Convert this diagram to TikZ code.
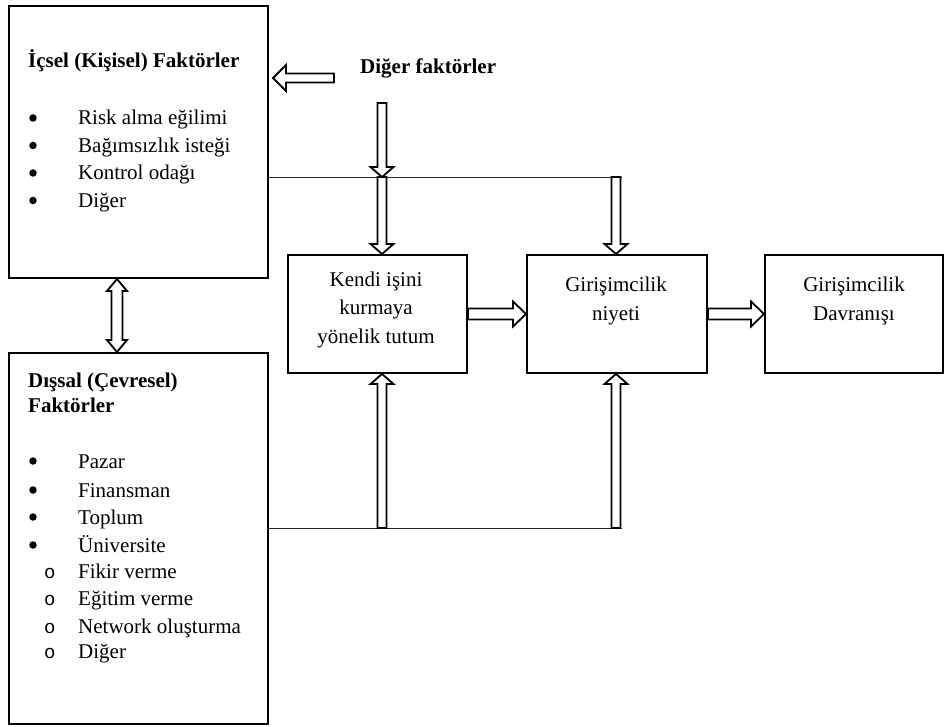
\documentclass[tikz,border=0pt]{standalone}
\usepackage{fontspec}
\setmainfont{Liberation Serif}
\newfontfamily\monofnt{Liberation Mono}
\usetikzlibrary{calc}
\def\baw{5pt}\def\bah{12pt}\def\bal{12pt}
\newcommand\basefont{\fontsize{21pt}{28pt}\selectfont}
\tikzset{
 box/.style={draw, line width=2pt, rectangle, inner sep=0pt, anchor=north west},
 txt/.style={anchor=base west, inner sep=0pt},
 btxt/.style={anchor=base west, inner sep=0pt, font=\basefont\bfseries},
 ctxt/.style={anchor=base, inner sep=0pt},
 blt/.style={circle, fill=black, inner sep=0pt, minimum size=7.5pt},
 sub/.style={anchor=base west, inner sep=0pt, font=\monofnt\fontsize{19pt}{28pt}\selectfont},
 thinline/.style={line width=0.8pt, draw=black!85},
 basize/.code n args={3}{\def\baw{#1}\def\bah{#2}\def\bal{#3}},
 ba/.style={draw, line width=1.8pt, fill=white, line join=miter,
   to path={ -- ($(\tikztostart)!\baw!90:(\tikztotarget)$)
     -- ($(\tikztotarget)!\bal!(\tikztostart)!\baw!-90:(\tikztostart)$)
     -- ($(\tikztotarget)!\bal!(\tikztostart)!\bah!-90:(\tikztostart)$)
     -- (\tikztotarget)
     -- ($(\tikztotarget)!\bal!(\tikztostart)!\bah!90:(\tikztostart)$)
     -- ($(\tikztotarget)!\bal!(\tikztostart)!\baw!90:(\tikztostart)$)
     -- ($(\tikztostart)!\baw!-90:(\tikztotarget)$)
     -- cycle}},
 dba/.style={draw, line width=1.8pt, fill=white, line join=miter,
   to path={ -- ($(\tikztostart)!\bal!(\tikztotarget)!\bah!90:(\tikztotarget)$)
      -- ($(\tikztostart)!\bal!(\tikztotarget)!\baw!90:(\tikztotarget)$)
      -- ($(\tikztotarget)!\bal!(\tikztostart)!\baw!-90:(\tikztostart)$)
      -- ($(\tikztotarget)!\bal!(\tikztostart)!\bah!-90:(\tikztostart)$)
      -- (\tikztotarget)
      -- ($(\tikztotarget)!\bal!(\tikztostart)!\bah!90:(\tikztostart)$)
      -- ($(\tikztotarget)!\bal!(\tikztostart)!\baw!90:(\tikztostart)$)
      -- ($(\tikztostart)!\bal!(\tikztotarget)!\baw!-90:(\tikztotarget)$)
      -- ($(\tikztostart)!\bal!(\tikztotarget)!\bah!-90:(\tikztotarget)$)
      -- cycle}}
}
\begin{document}
\begin{tikzpicture}[x=1pt,y=-1pt,font=\basefont]
\useasboundingbox (0,0) rectangle (945,727);
% boxes
\node[box, minimum width=259pt, minimum height=272pt] (A) at (8,5) {};
\node[box, minimum width=259pt, minimum height=371pt] (B) at (8,352) {};
\node[box, minimum width=179pt, minimum height=118pt] (K) at (287,254) {};
\node[box, minimum width=180pt, minimum height=118pt] (G) at (526,254) {};
\node[box, minimum width=178pt, minimum height=118pt] (D) at (764,254) {};
% box A text
\node[btxt] (hA) at (28,68) {İçsel (Kişisel) Faktörler};
\node[blt] (bA1) at (33,118) {}; \node[txt] (tA1) at (78,125) {Risk alma eğilimi};
\node[blt] (bA2) at (33,145.5) {}; \node[txt] (tA2) at (78,152.5) {Bağımsızlık isteği};
\node[blt] (bA3) at (33,173) {}; \node[txt] (tA3) at (78,180) {Kontrol odağı};
\node[blt] (bA4) at (33,200.5) {}; \node[txt] (tA4) at (78,207.5) {Diğer};
% box B text
\node[btxt] (hB1) at (28,387) {Dışsal (Çevresel)};
\node[btxt] (hB2) at (28,412) {Faktörler};
\node[blt] (bB1) at (33,461) {}; \node[txt] (tB1) at (78,468) {Pazar};
\node[blt] (bB2) at (33,490) {}; \node[txt] (tB2) at (78,497) {Finansman};
\node[blt] (bB3) at (33,517) {}; \node[txt] (tB3) at (78,524) {Toplum};
\node[blt] (bB4) at (33,545) {}; \node[txt] (tB4) at (78,552) {Üniversite};
\node[sub] (sB1) at (44,578) {o}; \node[txt] (uB1) at (78,578) {Fikir verme};
\node[sub] (sB2) at (44,605) {o}; \node[txt] (uB2) at (78,605) {Eğitim verme};
\node[sub] (sB3) at (44,633) {o}; \node[txt] (uB3) at (78,633) {Network oluşturma};
\node[sub] (sB4) at (44,658) {o}; \node[txt] (uB4) at (78,658) {Diğer};
% centre boxes text
\node[ctxt] (tK1) at (376,287) {Kendi işini};
\node[ctxt] (tK2) at (376,315) {kurmaya};
\node[ctxt] (tK3) at (376,343) {yönelik tutum};
\node[ctxt] (tG1) at (616,291) {Girişimcilik};
\node[ctxt] (tG2) at (616,320) {niyeti};
\node[ctxt] (tD1) at (854,291) {Girişimcilik};
\node[ctxt] (tD2) at (854,320) {Davranışı};
% other factors
\node[btxt] (df) at (360,74) {Diğer faktörler};
% coordinates
\coordinate (dfL) at (334,78);
\coordinate (aTip) at (273,78);
\coordinate (dfD) at (382,103);
\coordinate (jA1) at (382,177);
\coordinate (jA2) at (616,177);
\coordinate (jB1) at (382,528);
\coordinate (jB2) at (616,528);
\coordinate (dA) at ($(A.south west)+(109,0)$);
\coordinate (dB) at (dA |- B.north);
% thin lines
\draw[thinline] (A.east |- jA1) -- ($(jA2)+(6,0)$);
\draw[thinline] (B.east |- jB1) -- ($(jB2)+(6,0)$);
% block arrows
\draw[ba, basize={4.5pt}{13pt}{13pt}] (dfL) to (aTip);
\draw[ba, basize={4.5pt}{11.5pt}{10pt}] (dfD) to (jA1);
\draw[ba, basize={4.5pt}{11.5pt}{10pt}] (jA1) to (jA1 |- K.north);
\draw[ba, basize={4.5pt}{11.5pt}{10pt}] (jA2) to (jA2 |- G.north);
\draw[ba, basize={4.5pt}{11.5pt}{10pt}] (jB1) to (jB1 |- K.south);
\draw[ba, basize={4.5pt}{11.5pt}{10pt}] (jB2) to (jB2 |- G.south);
\draw[ba, basize={5.5pt}{12.5pt}{13pt}] (K.east) to (G.west);
\draw[ba, basize={5.5pt}{12.5pt}{13pt}] (G.east) to (D.west);
\draw[dba, basize={5.5pt}{10pt}{12pt}] (dA) to (dB);
\end{tikzpicture}
\end{document}
